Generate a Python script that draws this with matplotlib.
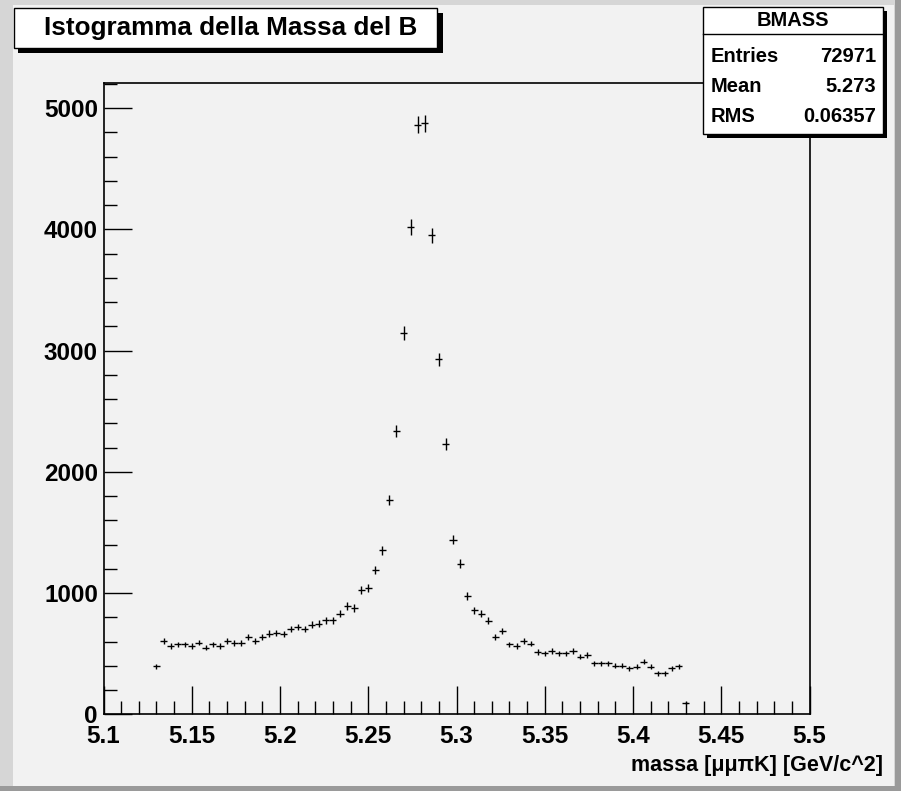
''' istogramma della massa del B '''
import numpy as np
import matplotlib
matplotlib.use('Agg')
import matplotlib.pyplot as plt
from matplotlib.patches import Rectangle
from matplotlib.ticker import MultipleLocator, FixedLocator

plt.rcParams['font.family'] = ['Liberation Sans', 'DejaVu Sans']
plt.rcParams['font.weight'] = 'bold'

# istogramma BMASS: 100 bin tra 5.1 e 5.5, riempiti da 5.13 a 5.43
x_min, x_max, n_bin = 5.1, 5.5, 100
primo_bin = 7
conteggi = [
    397, 603, 562, 576, 576, 562, 592, 551, 576, 562,
    603, 589, 589, 639, 603, 639, 666, 672, 661, 702,
    721, 702, 740, 749, 776, 776, 831, 894, 877, 1023,
    1042, 1193, 1352, 1770, 2340, 3144, 4019, 4864, 4877, 3953,
    2930, 2230, 1440, 1243, 976, 858, 828, 771, 639, 686,
    576, 562, 606, 584, 515, 502, 521, 502, 502, 521,
    474, 488, 420, 420, 420, 400, 400, 378, 392, 433,
    392, 337, 337, 378, 397, 95,
]
x_ticks = [5.1, 5.15, 5.2, 5.25, 5.3, 5.35, 5.4, 5.45, 5.5]
x_tick_labels = ['5.1', '5.15', '5.2', '5.25', '5.3', '5.35', '5.4', '5.45', '5.5']
y_ticks = [0, 1000, 2000, 3000, 4000, 5000]

titolo = 'Istogramma della Massa del B'
nome_stat = 'BMASS'
righe_stat = [('Entries', '72971'), ('Mean', '5.273'), ('RMS', '0.06357')]
etichetta_x = 'massa [μμπK] [GeV/c^2]'


def main():
    W, H = 901, 791
    fig = plt.figure(figsize=(W / 100, H / 100), dpi=100, facecolor='#d6d6d6')

    # cornice del canvas
    fig.add_artist(Rectangle((0, 0), 1, 1, transform=fig.transFigure,
                             facecolor='#9a9a9a', edgecolor='none', zorder=-3))
    fig.add_artist(Rectangle((0, 5 / H), 1 - 6 / W, 1 - 5 / H, transform=fig.transFigure,
                             facecolor='#d6d6d6', edgecolor='none', zorder=-2))
    fig.add_artist(Rectangle((13 / W, 5 / H), (894 - 13) / W, (786 - 5) / H,
                             transform=fig.transFigure, facecolor='#f2f2f2',
                             edgecolor='none', zorder=-1))

    ax = fig.add_axes([103.5 / W, 1 - 714.3 / H, (809.5 - 103.5) / W, (714.3 - 83.3) / H])
    ax.set_facecolor('#f2f2f2')

    bw = (x_max - x_min) / n_bin
    centri = x_min + bw * (np.arange(len(conteggi)) + primo_bin + 0.5)
    y = np.array(conteggi, dtype=float)
    ax.errorbar(centri, y, xerr=bw / 2, yerr=np.sqrt(y), fmt='none',
                ecolor='black', elinewidth=1.0, capsize=0)

    ax.set_xlim(x_min, x_max)
    ax.set_ylim(0, 1.05 * max(conteggi) + 85)

    ax.xaxis.set_major_locator(FixedLocator(x_ticks))
    ax.set_xticklabels(x_tick_labels)
    ax.xaxis.set_minor_locator(MultipleLocator(0.01))
    ax.yaxis.set_major_locator(FixedLocator(y_ticks))
    ax.yaxis.set_minor_locator(MultipleLocator(200))
    ax.tick_params(which='both', direction='in', top=False, right=False,
                   width=1.0, labelsize=17.5)
    ax.tick_params(which='major', length=20)
    ax.tick_params(which='minor', length=9.5)
    ax.tick_params(axis='x', pad=7.5)
    ax.tick_params(axis='y', pad=4)
    for s in ax.spines.values():
        s.set_linewidth(1.2)

    fig.text(883 / W, 1 - 766 / H, etichetta_x, ha='right', va='center',
             fontsize=15.5, fontweight='bold')

    # box del titolo con ombra
    fig.add_artist(Rectangle((18 / W, 1 - 53 / H), 425 / W, 40 / H,
                             transform=fig.transFigure, facecolor='black',
                             edgecolor='none', zorder=5))
    fig.add_artist(Rectangle((14 / W, 1 - 48 / H), 423 / W, 40 / H,
                             transform=fig.transFigure, facecolor='white',
                             edgecolor='black', linewidth=1.0, zorder=6))
    fig.text(231 / W, 1 - 28 / H, titolo, ha='center', va='center',
             fontsize=18.8, fontweight='bold', zorder=7)

    # box delle statistiche
    fig.add_artist(Rectangle((707 / W, 1 - 138 / H), 180 / W, 127 / H,
                             transform=fig.transFigure, facecolor='black',
                             edgecolor='none', zorder=5))
    fig.add_artist(Rectangle((703 / W, 1 - 134 / H), 180 / W, 127 / H,
                             transform=fig.transFigure, facecolor='white',
                             edgecolor='black', linewidth=1.0, zorder=6))
    fig.add_artist(plt.Line2D([703 / W, 883 / W], [1 - 34 / H, 1 - 34 / H],
                              transform=fig.transFigure, color='black',
                              linewidth=1.0, zorder=7))
    fig.text(793 / W, 1 - 21 / H, nome_stat, ha='center', va='center',
             fontsize=14.5, fontweight='bold', zorder=7)
    for i, (nome, valore) in enumerate(righe_stat):
        yy = 1 - (57 + 30 * i) / H
        fig.text(711 / W, yy, nome, ha='left', va='center',
                 fontsize=14.5, fontweight='bold', zorder=7)
        fig.text(876 / W, yy, valore, ha='right', va='center',
                 fontsize=14.5, fontweight='bold', zorder=7)

    fig.savefig('out.png', dpi=100, facecolor=fig.get_facecolor())


if __name__ == '__main__':
    main()
